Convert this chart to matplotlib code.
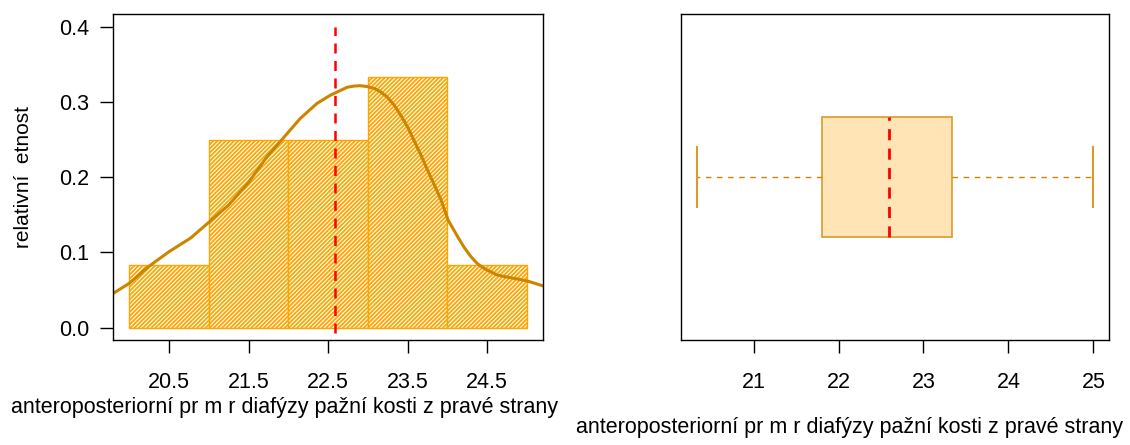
import matplotlib
matplotlib.use("Agg")
import matplotlib.pyplot as plt

# histogram: relative frequencies per bin
bin_edges = [20, 21, 22, 23, 24, 25]
rel_freq = [0.0833, 0.25, 0.25, 0.3333, 0.0833]

# density curve
dens_x = [19.79, 20.0, 20.24, 20.5, 20.77, 21.0, 21.25, 21.5, 21.73, 21.92,
          22.15, 22.36, 22.53, 22.59, 22.67, 22.74, 22.82, 22.90, 22.99, 23.08,
          23.16, 23.24, 23.33, 23.41, 23.50, 23.58, 23.67, 23.75, 23.84, 23.92,
          24.01, 24.07, 24.13, 24.21, 24.30, 24.38, 24.46, 24.55, 24.63, 24.74,
          24.84, 25.01, 25.21]
dens_y = [0.045, 0.059, 0.081, 0.101, 0.119, 0.140, 0.163, 0.193, 0.227, 0.250,
          0.278, 0.298, 0.309, 0.312, 0.316, 0.3195, 0.321, 0.3216, 0.3205, 0.318,
          0.3135, 0.307, 0.296, 0.283, 0.267, 0.249, 0.229, 0.2096, 0.189, 0.170,
          0.143, 0.132, 0.121, 0.107, 0.094, 0.085, 0.079, 0.074, 0.070, 0.0675,
          0.0656, 0.062, 0.0554]

mean_value = 22.59

# boxplot five numbers
box_min = 20.33
box_q1 = 21.81
box_med = 22.59
box_q3 = 23.335
box_max = 25.0

hist_ticks = [20.5, 21.5, 22.5, 23.5, 24.5]
hist_yticks = [0.0, 0.1, 0.2, 0.3, 0.4]
box_ticks = [21, 22, 23, 24, 25]

xlab = "anteroposteriorní pr m r diafýzy pažní kosti z pravé strany"
ylab = "relativní  etnost"

plt.rcParams["font.family"] = ["Liberation Sans", "DejaVu Sans"]
plt.rcParams["hatch.color"] = "orange"
plt.rcParams["hatch.linewidth"] = 1.3

fig = plt.figure(figsize=(11.3, 4.45), dpi=100)
fig.patch.set_facecolor("white")

# --- left: histogram + density ---
ax1 = fig.add_axes([0.1003, 0.2360, 0.3800, 0.7319])
widths = [b - a for a, b in zip(bin_edges[:-1], bin_edges[1:])]
ax1.bar(bin_edges[:-1], rel_freq, width=widths, align="edge",
        facecolor="white", edgecolor="orange", hatch="////////", linewidth=1.0)
ax1.plot(dens_x, dens_y, color="#CD8500", linewidth=2.2, solid_joinstyle="round")
ax1.plot([mean_value, mean_value], [-0.1, 0.4], color="red", linewidth=1.8,
         linestyle=(0, (4, 3)))
ax1.set_xlim(19.8, 25.2)
ax1.set_ylim(-0.0163, 0.4165)
ax1.set_xticks(hist_ticks)
ax1.set_xticklabels([str(t) for t in hist_ticks])
ax1.set_yticks(hist_yticks)
ax1.set_yticklabels([f"{t:.1f}" for t in hist_yticks])
ax1.tick_params(axis="x", length=9.5, width=1.0, pad=13.5, labelsize=15.5)
ax1.tick_params(axis="y", length=9.5, width=1.0, pad=8, labelsize=15.5)
for s in ax1.spines.values():
    s.set_linewidth(1.0)

# --- right: boxplot ---
ax2 = fig.add_axes([0.6024, 0.2360, 0.3793, 0.7319])
stats = [{"whislo": box_min, "q1": box_q1, "med": box_med, "q3": box_q3,
          "whishi": box_max, "fliers": []}]
ax2.bxp(stats, positions=[1], widths=0.4, capwidths=0.2, orientation="horizontal",
        patch_artist=True, showfliers=False,
        boxprops=dict(facecolor="#FFE4B5", edgecolor="#DA9A2C", linewidth=1.2),
        whiskerprops=dict(color="#CD8500", linewidth=1.0, linestyle=(0, (4, 4))),
        capprops=dict(color="#DA9A2C", linewidth=1.5),
        medianprops=dict(color="red", linewidth=2.0, linestyle=(0, (4, 3))))
ax2.set_xlim(20.143, 25.187)
ax2.set_ylim(0.46, 1.54)
ax2.set_yticks([])
ax2.set_xticks(box_ticks)
ax2.set_xticklabels([str(t) for t in box_ticks])
ax2.tick_params(axis="x", length=9.5, width=1.0, pad=13.5, labelsize=15.5)
for s in ax2.spines.values():
    s.set_linewidth(1.0)

# axis titles placed like the R output
fig.text(11 / 1130, 1 - 408 / 445, xlab, ha="left", va="center", fontsize=15.5)
fig.text(576 / 1130, 1 - 428 / 445, xlab, ha="left", va="center", fontsize=15.5)
fig.text(24 / 1130, 1 - 177 / 445, ylab, ha="center", va="center",
         rotation=90, fontsize=15)

fig.savefig("out.png", dpi=100)
